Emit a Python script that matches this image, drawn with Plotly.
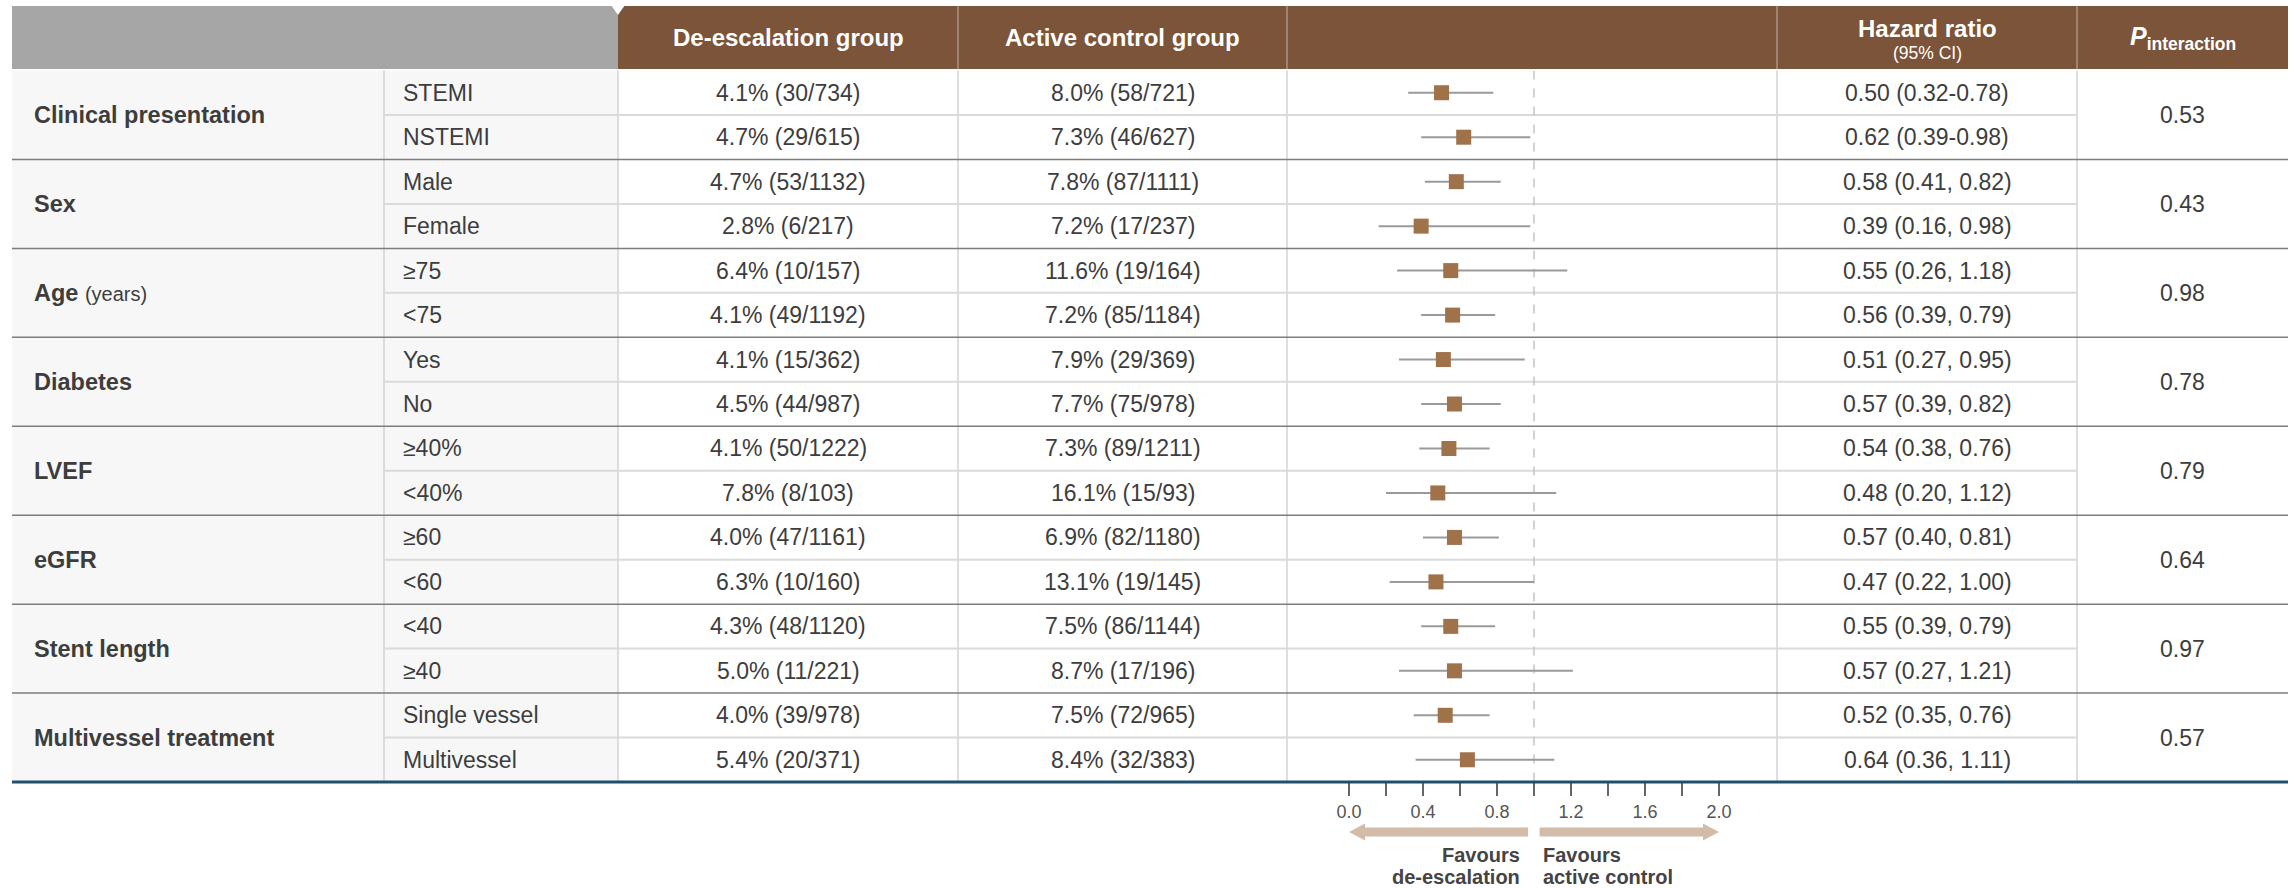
import plotly.graph_objects as go

# ---------------------------------------------------------------- data
groups = ["Clinical presentation", "Sex", "Age", "Diabetes", "LVEF", "eGFR",
          "Stent length", "Multivessel treatment"]
group_notes = ["", "", "(years)", "", "", "", "", ""]
subgroups = ["STEMI", "NSTEMI", "Male", "Female", "≥75", "<75", "Yes", "No",
             "≥40%", "<40%", "≥60", "<60", "<40", "≥40", "Single vessel", "Multivessel"]

deesc_pct = [4.1, 4.7, 4.7, 2.8, 6.4, 4.1, 4.1, 4.5, 4.1, 7.8, 4.0, 6.3, 4.3, 5.0, 4.0, 5.4]
deesc_events = [30, 29, 53, 6, 10, 49, 15, 44, 50, 8, 47, 10, 48, 11, 39, 20]
deesc_n = [734, 615, 1132, 217, 157, 1192, 362, 987, 1222, 103, 1161, 160, 1120, 221, 978, 371]

ctrl_pct = [8.0, 7.3, 7.8, 7.2, 11.6, 7.2, 7.9, 7.7, 7.3, 16.1, 6.9, 13.1, 7.5, 8.7, 7.5, 8.4]
ctrl_events = [58, 46, 87, 17, 19, 85, 29, 75, 89, 15, 82, 19, 86, 17, 72, 32]
ctrl_n = [721, 627, 1111, 237, 164, 1184, 369, 978, 1211, 93, 1180, 145, 1144, 196, 965, 383]

hazard_ratio = [0.50, 0.62, 0.58, 0.39, 0.55, 0.56, 0.51, 0.57,
                0.54, 0.48, 0.57, 0.47, 0.55, 0.57, 0.52, 0.64]
ci_low = [0.32, 0.39, 0.41, 0.16, 0.26, 0.39, 0.27, 0.39,
          0.38, 0.20, 0.40, 0.22, 0.39, 0.27, 0.35, 0.36]
ci_high = [0.78, 0.98, 0.82, 0.98, 1.18, 0.79, 0.95, 0.82,
           0.76, 1.12, 0.81, 1.00, 0.79, 1.21, 0.76, 1.11]
ci_sep = ["-", "-"] + [", "] * 14

p_interaction = ["0.53", "0.43", "0.98", "0.78", "0.79", "0.64", "0.97", "0.57"]

x_tick_vals = [0.0, 0.4, 0.8, 1.2, 1.6, 2.0]
x_tick_text = ["0.0", "0.4", "0.8", "1.2", "1.6", "2.0"]
x_minor_ticks = [0.2, 0.6, 1.0, 1.4, 1.8]

# ---------------------------------------------------------------- layout geometry (pixels)
W, H = 2290, 888
COLS = [12, 384, 618, 958, 1287, 1777, 2077, 2288]
HEAD_TOP, HEAD_BOT = 6, 69
BODY_TOP, BODY_BOT = 70.5, 782
X0_PX, PX_PER_UNIT = 1349, 185.0          # forest axis: value 0 position and scale
N = len(subgroups)

FONT = "Liberation Sans, Arial, sans-serif"
TXT = "#3d3d3d"
BROWN = "#7b5439"
GREY_HEAD = "#a6a6a6"
BODY_SIZE = 23


def px(x):
    return x / W


def py(y):
    return 1 - y / H


def center(i):
    return px((COLS[i] + COLS[i + 1]) / 2)


fig = go.Figure()

# forest plot markers with CIs
fig.add_trace(go.Scatter(
    x=hazard_ratio, y=list(range(N)), mode="markers",
    marker=dict(symbol="square", size=15, color="#9f7249", line=dict(width=0)),
    error_x=dict(type="data", symmetric=False,
                 array=[h - m for h, m in zip(ci_high, hazard_ratio)],
                 arrayminus=[m - l for m, l in zip(hazard_ratio, ci_low)],
                 color="#9a9a9a", thickness=2, width=0),
    hoverinfo="skip", showlegend=False, cliponaxis=False,
))

shapes = []
# header blocks
shapes.append(dict(type="rect", xref="paper", yref="paper", x0=px(COLS[0]), x1=px(COLS[2]),
                   y0=py(HEAD_BOT), y1=py(HEAD_TOP), fillcolor=GREY_HEAD, line=dict(width=0), layer="below"))
shapes.append(dict(type="rect", xref="paper", yref="paper", x0=px(COLS[2]), x1=px(COLS[-1]),
                   y0=py(HEAD_BOT), y1=py(HEAD_TOP), fillcolor=BROWN, line=dict(width=0), layer="below"))
# small notch where the grey and brown header meet
shapes.append(dict(type="path", xref="paper", yref="paper",
                   path=f"M {px(611)},{py(HEAD_TOP - 1)} L {px(625)},{py(HEAD_TOP - 1)} L {px(618)},{py(15)} Z",
                   fillcolor="white", line=dict(width=0), layer="below"))
# header column dividers
for c in COLS[3:-1]:
    shapes.append(dict(type="line", xref="paper", yref="paper", x0=px(c), x1=px(c),
                       y0=py(HEAD_BOT), y1=py(HEAD_TOP), line=dict(color="rgba(255,255,255,0.55)", width=1)))

# light background of the label columns
shapes.append(dict(type="rect", xref="paper", yref="paper", x0=px(COLS[0]), x1=px(COLS[2]),
                   y0=py(BODY_BOT), y1=py(BODY_TOP), fillcolor="#f7f7f7", line=dict(width=0), layer="below"))

# body column dividers
for c in COLS[1:-1]:
    shapes.append(dict(type="line", xref="paper", yref="paper", x0=px(c), x1=px(c),
                       y0=py(BODY_BOT), y1=py(BODY_TOP), line=dict(color="#d3d3d3", width=1.5), layer="below"))

# reference line at HR = 1
shapes.append(dict(type="line", xref="x", yref="y", x0=1, x1=1, y0=-0.5, y1=N - 0.5,
                   line=dict(color="#c4c4c4", width=1.5, dash="dash"), layer="below"))

# row dividers inside each group, and group dividers
for g in range(len(groups)):
    shapes.append(dict(type="line", xref="paper", yref="y", x0=px(COLS[1]), x1=px(COLS[6]),
                       y0=2 * g + 0.5, y1=2 * g + 0.5, line=dict(color="#dadada", width=2), layer="below"))
for g in range(1, len(groups)):
    shapes.append(dict(type="line", xref="paper", yref="y", x0=px(COLS[0]), x1=px(COLS[-1]),
                       y0=2 * g - 0.5, y1=2 * g - 0.5, line=dict(color="#7d7d7d", width=1.5)))
# closing rule under the table
shapes.append(dict(type="line", xref="paper", yref="paper", x0=px(COLS[0]), x1=px(COLS[-1]),
                   y0=py(BODY_BOT), y1=py(BODY_BOT), line=dict(color="#1f4f6f", width=3)))

# direction arrows under the axis
ARROW_Y, SHAFT, HEAD, HEAD_LEN = 832, 4.5, 8.5, 16 / PX_PER_UNIT


def arrow(tail, tip):
    d = 1 if tip > tail else -1
    base = tip - d * HEAD_LEN
    pts = [(tail, ARROW_Y - SHAFT), (base, ARROW_Y - SHAFT), (base, ARROW_Y - HEAD), (tip, ARROW_Y),
           (base, ARROW_Y + HEAD), (base, ARROW_Y + SHAFT), (tail, ARROW_Y + SHAFT)]
    path = "M " + " L ".join(f"{x},{py(y)}" for x, y in pts) + " Z"
    return dict(type="path", xref="x", yref="paper", path=path, fillcolor="#d2bba8", line=dict(width=0))


shapes.append(arrow(0.968, 0.0))
shapes.append(arrow(1.030, 2.0))

# ---------------------------------------------------------------- text
ann = []


def add(text, x, y, size, xref="paper", yref="y", xanchor="center", color=TXT, **kw):
    ann.append(dict(text=text, x=x, y=y, xref=xref, yref=yref, xanchor=xanchor, yanchor="middle",
                    showarrow=False, font=dict(family=FONT, size=size, color=color), **kw))


# header
hy = py((HEAD_TOP + HEAD_BOT) / 2)
add("<b>De-escalation group</b>", center(2), hy, 24, yref="paper", color="white")
add("<b>Active control group</b>", center(3), hy, 24, yref="paper", color="white")
add("<b>Hazard ratio</b>", center(5), py(29), 24, yref="paper", color="white")
add("(95% CI)", center(5), py(53), 17.5, yref="paper", color="white")
add("<b><i>P</i></b><b><sub>interaction</sub></b>", center(6), py(38), 25, yref="paper", color="white")

# groups and p-values
for g, name in enumerate(groups):
    label = f"<b>{name}</b>"
    if group_notes[g]:
        label += f" <span style='font-size:20px'>{group_notes[g]}</span>"
    add(label, px(32), 2 * g + 0.5, 23.5, xanchor="left")
    add(p_interaction[g], center(6), 2 * g + 0.5, BODY_SIZE)

# rows
for i in range(N):
    add(subgroups[i], px(401), i, BODY_SIZE, xanchor="left")
    add(f"{deesc_pct[i]:.1f}% ({deesc_events[i]}/{deesc_n[i]})", center(2), i, BODY_SIZE)
    add(f"{ctrl_pct[i]:.1f}% ({ctrl_events[i]}/{ctrl_n[i]})", center(3), i, BODY_SIZE)
    add(f"{hazard_ratio[i]:.2f} ({ci_low[i]:.2f}{ci_sep[i]}{ci_high[i]:.2f})", center(5), i, BODY_SIZE)

# arrow captions
add("<b>Favours</b>", 0.933, py(855), 20, xref="x", yref="paper", xanchor="right", color="#444")
add("<b>de-escalation</b>", 0.933, py(877), 20, xref="x", yref="paper", xanchor="right", color="#444")
add("<b>Favours</b>", 1.036, py(855), 20, xref="x", yref="paper", xanchor="left", color="#444")
add("<b>active control</b>", 1.036, py(877), 20, xref="x", yref="paper", xanchor="left", color="#444")

fig.update_layout(
    width=W, height=H, margin=dict(l=0, r=0, t=0, b=0),
    paper_bgcolor="white", plot_bgcolor="rgba(0,0,0,0)",
    shapes=shapes, annotations=ann, showlegend=False,
    xaxis=dict(domain=[px(COLS[4]), px(COLS[5])],
               range=[(COLS[4] - X0_PX) / PX_PER_UNIT, (COLS[5] - X0_PX) / PX_PER_UNIT],
               tickvals=x_tick_vals, ticktext=x_tick_text, ticks="outside", ticklen=13,
               tickwidth=1.5, tickcolor="#666", tickfont=dict(family=FONT, size=18, color="#555"),
               ticklabelstandoff=0,
               minor=dict(tickvals=x_minor_ticks, ticks="outside", ticklen=13, tickwidth=1.5,
                          tickcolor="#666", showgrid=False),
               showgrid=False, zeroline=False, showline=False, fixedrange=True),
    yaxis=dict(domain=[py(BODY_BOT), py(BODY_TOP)], range=[N - 0.5, -0.5], visible=False,
               fixedrange=True),
)

fig.write_html("out.html")
